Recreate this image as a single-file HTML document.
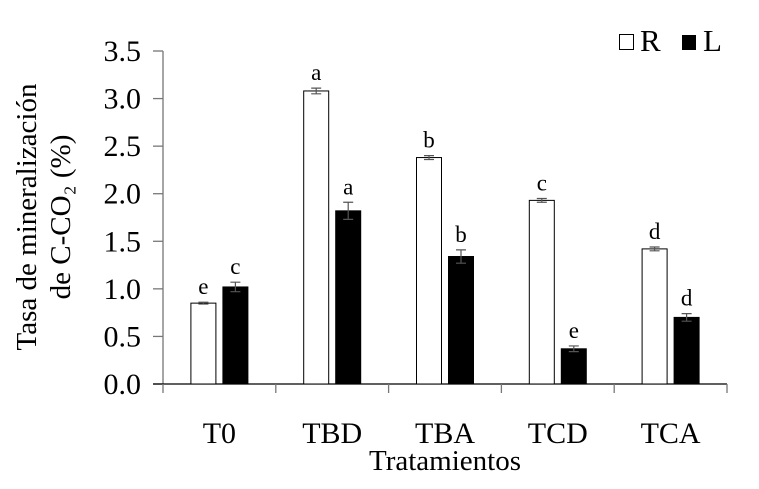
<!DOCTYPE html>
<html><head><meta charset="utf-8"><style>
html,body{margin:0;padding:0;background:#fff;}
svg{display:block;font-family:"Liberation Serif",serif;}
</style></head><body>
<svg id="chart" width="759" height="489" viewBox="0 0 759 489">
<g>
<rect x="619.5" y="34.5" width="14" height="15" fill="#fff" stroke="#000" stroke-width="1"/>
<text x="640" y="51" font-size="31">R</text>
<rect x="682" y="35" width="14" height="15" fill="#000"/>
<text x="703" y="51" font-size="31">L</text>
</g>
<g font-size="29">
<text transform="translate(36,217) rotate(-90)" text-anchor="middle">Tasa de mineralización</text>
<text transform="translate(70,217) rotate(-90)" text-anchor="middle">de C-CO₂ (%)</text>
</g>
<text x="445" y="470" font-size="29" text-anchor="middle">Tratamientos</text>
<g id="plot"></g>
</svg>
<script>
const categories = ["T0","TBD","TBA","TCD","TCA"];
const valuesR = [0.85,3.08,2.38,1.93,1.42];
const valuesL = [1.02,1.82,1.34,0.37,0.70];
const errR = [0.01,0.03,0.02,0.02,0.02];
const errL = [0.05,0.09,0.07,0.03,0.04];
const lettersR = ["e","a","b","c","d"];
const lettersL = ["c","a","b","e","d"];
const yTicks = [0,0.5,1,1.5,2,2.5,3,3.5];
const yTickLabels = ["0.0","0.5","1.0","1.5","2.0","2.5","3.0","3.5"];

const NS="http://www.w3.org/2000/svg";
const g=document.getElementById('plot');
const X0=163,X1=727,Y0=384,Y1=51,YMAX=3.5;
const bw=(X1-X0)/categories.length;
function y(v){return Y0-(v/YMAX)*(Y0-Y1);}
function xc(i){return X0+bw*(i+0.5);}
function mk(tag,attrs){const e=document.createElementNS(NS,tag);for(const k in attrs)e.setAttribute(k,attrs[k]);g.appendChild(e);return e;}

let ax=mk('line',{x1:X0,y1:Y1,x2:X0,y2:Y0,stroke:'#777','stroke-width':1.3});


yTicks.forEach((t,i)=>{
  const tk=mk('line',{x1:X0-10,y1:y(t),x2:X0,y2:y(t),stroke:'#777','stroke-width':1.3});
  
  
  const tl=mk('text',{x:141,y:y(t)+10,'font-size':30,'text-anchor':'end'});
  tl.textContent=yTickLabels[i];
  
  
});
let xa=mk('line',{x1:X0-10,y1:Y0,x2:X1,y2:Y0,stroke:'#000','stroke-width':1.3});


for(let i=0;i<=categories.length;i++){
  const tk=mk('line',{x1:X0+bw*i,y1:Y0,x2:X0+bw*i,y2:Y0+9,stroke:'#777','stroke-width':1.3});
  
  
}
categories.forEach((c,i)=>{
  const cx=xc(i);
  const tl=mk('text',{x:cx,y:443,'font-size':30,'text-anchor':'middle'});
  tl.textContent=c;
  
  
  [[valuesR,errR,lettersR,-29,'#fff','r'],[valuesL,errL,lettersL,3,'#000','l']].forEach(([vals,errs,lets,off,fill,s])=>{
    const v=vals[i];
    const b=mk('rect',{x:cx+off+0.5,y:y(v),width:25,height:Y0-y(v),fill:fill,stroke:'#000','stroke-width':1});
    
    
    const mx=cx+off+13;
    const e=errs[i];
    const eb=mk('path',{d:`M${mx},${y(v+e)}V${y(v-e)}M${mx-5},${y(v+e)}H${mx+5}M${mx-5},${y(v-e)}H${mx+5}`,stroke:'#555','stroke-width':1.2,fill:'none'});
    
    
    const lt=mk('text',{x:mx,y:y(v+e)-8,'font-size':23,'text-anchor':'middle'});
    lt.textContent=lets[i];
    
    
  });
});
</script>
</body></html>
